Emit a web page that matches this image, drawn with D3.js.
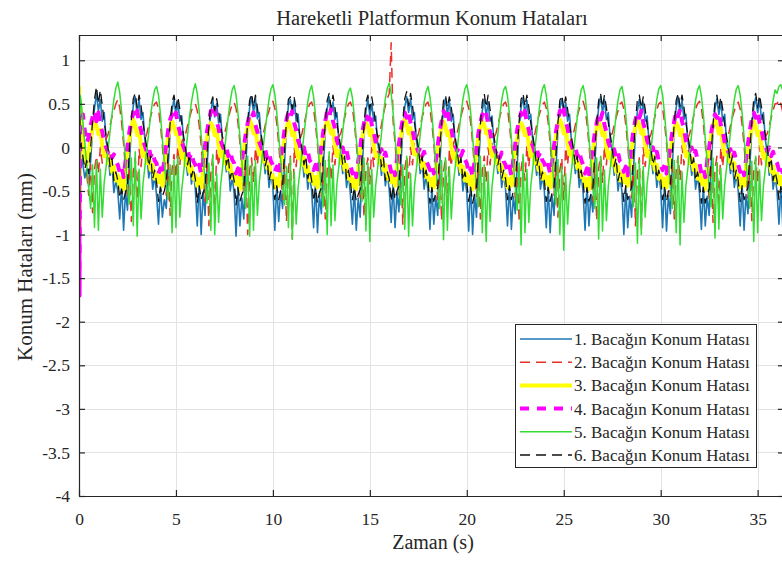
<!DOCTYPE html>
<html><head><meta charset="utf-8">
<script src="https://cdn.jsdelivr.net/npm/d3@7"></script>
<style>
body{margin:0;background:#fff}
svg{display:block}
text{font-family:"Liberation Serif","Times New Roman",serif;fill:#262626}
</style>
</head><body>
<svg id="chart" width="782" height="561"></svg>
<script>
const titleText = "Hareketli Platformun Konum Hataları";
const xLabelText = "Zaman (s)";
const yLabelText = "Konum Hataları (mm)";
const xTicks = [0, 5, 10, 15, 20, 25, 30, 35];
const yTicks = [1, 0.5, 0, -0.5, -1, -1.5, -2, -2.5, -3, -3.5, -4];
const seriesNames = ["1. Bacağın Konum Hatası","2. Bacağın Konum Hatası","3. Bacağın Konum Hatası","4. Bacağın Konum Hatası","5. Bacağın Konum Hatası","6. Bacağın Konum Hatası"];

// start-up transient samples (s) and the regular sampling that follows
const transientTimes = [0, 0.03, 0.06];
const sampleStart = 0.1, sampleStep = 0.1;

const leg1Transient = [-1.5, 0.3, -0.2];
const leg2Transient = [0.0, -1.2, 0.3];
const leg3Transient = [0.7, -1.0, 0.5];
const leg4Transient = [0.35, -1.7, 0.2];
const leg5Transient = [1.4, -0.5, 0.6];
const leg6Transient = [-0.3, 0.4, 0.0];

const leg1 = [
-0.05,-0.20,-0.35,-0.25,-0.45,-0.15,0.20,0.45,0.62,0.42,0.55,0.30,0.40,0.08,-0.08,-0.32,-0.20,-0.52,-0.38,
-0.50,-0.82,-0.42,-0.95,-0.50,-0.72,-0.18,0.22,0.48,0.58,0.38,0.55,0.32,0.40,0.08,-0.08,-0.35,-0.18,-0.48,-0.32,
-0.55,-0.88,-0.45,-0.80,-0.60,-0.70,-0.22,0.18,0.42,0.56,0.36,0.52,0.30,0.36,0.05,-0.10,-0.32,-0.12,-0.42,-0.28,
-0.48,-0.90,-0.38,-1.00,-0.52,-0.78,-0.25,0.15,0.40,0.55,0.35,0.50,0.28,0.38,0.06,-0.06,-0.28,-0.16,-0.50,-0.34,
-0.52,-1.02,-0.45,-0.90,-0.58,-0.82,-0.20,0.20,0.46,0.58,0.40,0.56,0.33,0.40,0.10,-0.04,-0.30,-0.14,-0.46,-0.30,
-0.46,-0.95,-0.42,-0.85,-0.50,-0.70,-0.18,0.22,0.48,0.55,0.38,0.54,0.30,0.38,0.08,-0.06,-0.34,-0.18,-0.48,-0.32,
-0.50,-0.92,-0.40,-0.98,-0.55,-0.76,-0.22,0.18,0.44,0.58,0.38,0.52,0.32,0.40,0.08,-0.06,-0.30,-0.16,-0.46,-0.30,
-0.55,-0.88,-0.46,-0.95,-0.58,-0.80,-0.25,0.16,0.42,0.56,0.36,0.50,0.30,0.36,0.06,-0.08,-0.32,-0.14,-0.44,-0.30,
-0.48,-0.86,-0.42,-0.92,-0.52,-0.74,-0.20,0.20,0.46,0.58,0.40,0.56,0.32,0.40,0.08,-0.06,-0.30,-0.16,-0.48,-0.32,
-0.50,-0.94,-0.44,-0.88,-0.56,-0.78,-0.22,0.18,0.44,0.56,0.38,0.54,0.30,0.38,0.06,-0.08,-0.32,-0.18,-0.50,-0.34,
-0.52,-0.96,-0.40,-1.00,-0.54,-0.80,-0.24,0.16,0.42,0.55,0.36,0.52,0.30,0.36,0.06,-0.06,-0.30,-0.14,-0.46,-0.30,
-0.48,-0.90,-0.42,-0.94,-0.56,-0.76,-0.20,0.20,0.46,0.57,0.38,0.54,0.32,0.38,0.08,-0.06,-0.32,-0.16,-0.48,-0.32,
-0.50,-0.92,-0.44,-0.98,-0.55,-0.78,-0.22,0.18,0.44,0.56,0.38,0.52,0.30,0.38,0.06,-0.08,-0.30,-0.16,-0.46,-0.30,
-0.52,-0.95,-0.42,-0.90,-0.54,-0.74,-0.20,0.20,0.46,0.58,0.40,0.55,0.32,0.40,0.08,-0.06,-0.32,-0.18,-0.50,-0.34,
-0.50,-1.00,-0.45,-0.92,-0.56,-0.80,-0.24,0.16,0.42,0.55,0.36,0.52,0.30,0.36,0.06,-0.06,-0.30,-0.14,-0.46,-0.30,
-0.48,-0.92,-0.40,-0.96,-0.55,-0.76,-0.20,0.20,0.46,0.58,0.38,0.54,0.32,0.38,0.08,-0.06,-0.32,-0.16,-0.48,-0.32,
-0.52,-0.94,-0.44,-0.90,-0.56,-0.78,-0.22,0.18,0.44,0.56,0.38,0.52,0.30,0.38,0.06,-0.08,-0.30,-0.16,-0.46,-0.30,
-0.50,-0.90,-0.42,-0.95,-0.54,-0.76,-0.20,0.20,0.46,0.57,0.40,0.55,0.32,0.40,0.08,-0.06,-0.32,-0.18,-0.48,-0.34,
-0.50,-0.88,-0.45,-0.92
];

const leg2 = [
0.15,0.00,-0.15,-0.30,-0.55,-0.20,-0.75,-0.25,-0.10,-0.30,0.00,-0.18,0.05,0.10,0.15,0.25,0.35,0.42,0.50,
0.55,0.46,0.28,0.04,-0.25,-0.58,-0.22,-0.85,-0.28,-0.12,-0.60,-0.02,-0.22,0.04,0.10,0.16,0.26,0.36,0.44,0.50,
0.52,0.44,0.26,0.02,-0.28,-0.55,-0.18,-0.78,-0.25,-0.08,-0.35,0.02,-0.20,0.06,0.12,0.16,0.25,0.34,0.42,0.48,
0.50,0.42,0.25,0.03,-0.26,-0.62,-0.20,-0.90,-0.30,-0.10,-0.80,-0.02,-0.22,0.04,0.10,0.15,0.24,0.34,0.42,0.49,
0.52,0.45,0.28,0.05,-0.25,-0.55,-0.18,-1.00,-0.26,-0.12,-0.40,0.00,-0.20,0.05,0.10,0.15,0.25,0.35,0.42,0.50,
0.53,0.45,0.27,0.04,-0.26,-0.60,-0.20,-0.85,-0.24,-0.10,-1.05,0.00,-0.22,0.04,0.10,0.16,0.26,0.36,0.44,0.50,
0.52,0.44,0.26,0.03,-0.27,-0.56,-0.22,-0.82,-0.25,-0.10,-0.38,0.02,-0.20,0.06,0.12,0.16,0.25,0.34,0.43,0.50,
0.52,0.45,0.28,0.05,-0.25,-0.58,-0.20,-0.80,-0.26,-0.12,-0.42,0.00,-0.22,0.04,0.10,0.15,0.26,0.38,0.48,0.56,
0.62,1.20,0.30,0.05,-0.25,-0.55,-0.20,-0.88,-0.25,-0.10,-0.35,0.00,-0.20,0.05,0.10,0.15,0.25,0.35,0.42,0.50,
0.52,0.44,0.27,0.04,-0.26,-0.60,-0.22,-0.84,-0.28,-0.12,-0.70,-0.02,-0.22,0.04,0.10,0.16,0.26,0.36,0.44,0.50,
0.53,0.45,0.28,0.05,-0.25,-0.56,-0.20,-0.82,-0.26,-0.10,-0.40,0.00,-0.20,0.05,0.11,0.16,0.25,0.35,0.43,0.50,
0.52,0.44,0.26,0.03,-0.27,-0.58,-0.22,-0.86,-0.25,-0.10,-0.38,0.02,-0.22,0.04,0.10,0.15,0.25,0.35,0.42,0.49,
0.52,0.45,0.28,0.05,-0.25,-0.55,-0.20,-0.80,-0.26,-0.12,-0.60,0.00,-0.20,0.05,0.10,0.16,0.26,0.36,0.44,0.50,
0.53,0.45,0.27,0.04,-0.26,-0.62,-0.22,-0.84,-0.24,-0.10,-0.40,0.02,-0.20,0.06,0.12,0.16,0.25,0.34,0.42,0.50,
0.52,0.44,0.26,0.03,-0.27,-0.58,-0.20,-0.90,-0.28,-0.12,-0.95,0.00,-0.22,0.04,0.10,0.15,0.25,0.35,0.43,0.50,
0.52,0.45,0.28,0.05,-0.25,-0.56,-0.22,-0.82,-0.26,-0.10,-0.38,0.02,-0.20,0.05,0.10,0.16,0.26,0.36,0.44,0.50,
0.53,0.45,0.27,0.04,-0.26,-0.60,-0.20,-0.86,-0.25,-0.10,-0.70,0.00,-0.22,0.04,0.11,0.15,0.25,0.35,0.42,0.49,
0.52,0.44,0.26,0.03,-0.27,-0.58,-0.22,-0.84,-0.26,-0.12,-0.40,0.02,-0.20,0.06,0.12,0.16,0.25,0.34,0.43,0.50,
0.50,0.55,0.50,0.40
];

const leg3 = [
0.30,0.10,-0.10,-0.20,-0.05,0.10,0.22,0.30,0.25,0.15,0.20,0.02,-0.10,-0.05,-0.18,-0.10,-0.28,-0.22,-0.38,
-0.32,-0.45,-0.35,-0.48,-0.28,-0.06,0.10,0.22,0.32,0.26,0.14,0.20,0.02,-0.10,-0.04,-0.18,-0.10,-0.26,-0.20,-0.36,
-0.30,-0.40,-0.33,-0.44,-0.24,-0.04,0.12,0.24,0.30,0.24,0.15,0.18,0.00,-0.12,-0.06,-0.20,-0.12,-0.28,-0.22,-0.36,
-0.32,-0.44,-0.36,-0.46,-0.26,-0.06,0.10,0.22,0.28,0.24,0.14,0.20,0.02,-0.10,-0.05,-0.18,-0.10,-0.25,-0.20,-0.35,
-0.30,-0.42,-0.34,-0.48,-0.26,-0.04,0.12,0.24,0.32,0.26,0.16,0.22,0.04,-0.08,-0.04,-0.16,-0.08,-0.24,-0.18,-0.34,
-0.32,-0.46,-0.36,-0.44,-0.24,-0.06,0.10,0.22,0.30,0.24,0.14,0.18,0.00,-0.12,-0.06,-0.20,-0.12,-0.28,-0.22,-0.38,
-0.30,-0.42,-0.34,-0.46,-0.26,-0.04,0.12,0.24,0.30,0.26,0.16,0.20,0.02,-0.10,-0.04,-0.18,-0.10,-0.26,-0.20,-0.36,
-0.34,-0.45,-0.36,-0.48,-0.28,-0.06,0.10,0.22,0.28,0.24,0.14,0.20,0.02,-0.10,-0.06,-0.18,-0.12,-0.26,-0.20,-0.36,
-0.30,-0.40,-0.32,-0.44,-0.24,-0.04,0.12,0.26,0.32,0.26,0.16,0.22,0.04,-0.08,-0.04,-0.16,-0.10,-0.24,-0.18,-0.34,
-0.32,-0.44,-0.36,-0.46,-0.26,-0.06,0.10,0.22,0.30,0.24,0.14,0.18,0.00,-0.12,-0.06,-0.20,-0.12,-0.28,-0.22,-0.38,
-0.30,-0.42,-0.34,-0.48,-0.26,-0.04,0.12,0.24,0.30,0.26,0.16,0.20,0.02,-0.10,-0.04,-0.18,-0.10,-0.26,-0.20,-0.36,
-0.32,-0.46,-0.36,-0.44,-0.24,-0.06,0.10,0.22,0.28,0.24,0.14,0.20,0.02,-0.10,-0.06,-0.18,-0.12,-0.26,-0.20,-0.36,
-0.30,-0.42,-0.34,-0.46,-0.26,-0.04,0.12,0.26,0.32,0.26,0.16,0.22,0.04,-0.08,-0.04,-0.16,-0.08,-0.24,-0.18,-0.34,
-0.34,-0.45,-0.36,-0.48,-0.28,-0.06,0.10,0.22,0.30,0.24,0.14,0.18,0.00,-0.12,-0.06,-0.20,-0.12,-0.28,-0.22,-0.38,
-0.30,-0.40,-0.32,-0.44,-0.24,-0.04,0.12,0.24,0.30,0.26,0.16,0.20,0.02,-0.10,-0.04,-0.18,-0.10,-0.26,-0.20,-0.36,
-0.32,-0.44,-0.36,-0.46,-0.26,-0.06,0.10,0.22,0.28,0.24,0.14,0.20,0.02,-0.10,-0.06,-0.18,-0.12,-0.26,-0.20,-0.36,
-0.30,-0.42,-0.34,-0.48,-0.26,-0.04,0.12,0.26,0.32,0.26,0.16,0.22,0.04,-0.08,-0.04,-0.16,-0.08,-0.24,-0.18,-0.34,
-0.32,-0.46,-0.36,-0.44,-0.24,-0.06,0.10,0.22,0.30,0.24,0.14,0.18,0.00,-0.12,-0.06,-0.20,-0.12,-0.28,-0.22,-0.38,
-0.30,-0.42,-0.34,-0.46
];

const leg4 = [
0.35,0.38,0.20,0.05,0.12,0.25,0.35,0.42,0.30,0.40,0.25,0.18,0.06,0.00,-0.06,-0.02,-0.12,-0.08,-0.16,
-0.20,-0.28,-0.22,-0.34,-0.16,0.02,0.18,0.30,0.40,0.34,0.42,0.28,0.20,0.08,0.02,-0.05,0.00,-0.10,-0.05,-0.15,
-0.18,-0.30,-0.24,-0.32,-0.14,0.04,0.20,0.32,0.38,0.32,0.40,0.26,0.18,0.06,0.00,-0.06,-0.02,-0.12,-0.06,-0.16,
-0.20,-0.26,-0.20,-0.30,-0.16,0.02,0.18,0.30,0.42,0.36,0.44,0.30,0.22,0.08,0.02,-0.04,0.00,-0.10,-0.04,-0.14,
-0.18,-0.30,-0.24,-0.34,-0.16,0.00,0.16,0.28,0.38,0.34,0.40,0.26,0.18,0.06,0.00,-0.06,-0.02,-0.12,-0.06,-0.16,
-0.20,-0.28,-0.22,-0.32,-0.14,0.04,0.20,0.32,0.40,0.34,0.42,0.28,0.20,0.08,0.02,-0.05,0.00,-0.10,-0.05,-0.15,
-0.18,-0.26,-0.20,-0.30,-0.16,0.02,0.18,0.30,0.42,0.36,0.44,0.30,0.22,0.08,0.02,-0.04,0.00,-0.10,-0.04,-0.14,
-0.20,-0.30,-0.24,-0.34,-0.16,0.00,0.16,0.28,0.38,0.32,0.40,0.26,0.18,0.06,0.00,-0.06,-0.02,-0.12,-0.06,-0.16,
-0.18,-0.28,-0.22,-0.32,-0.14,0.04,0.20,0.32,0.40,0.34,0.42,0.28,0.20,0.08,0.02,-0.05,0.00,-0.10,-0.05,-0.15,
-0.20,-0.26,-0.20,-0.30,-0.16,0.02,0.18,0.30,0.42,0.36,0.44,0.30,0.22,0.08,0.02,-0.04,0.00,-0.10,-0.04,-0.14,
-0.18,-0.30,-0.24,-0.34,-0.16,0.00,0.16,0.28,0.38,0.34,0.40,0.26,0.18,0.06,0.00,-0.06,-0.02,-0.12,-0.06,-0.16,
-0.20,-0.28,-0.22,-0.32,-0.14,0.04,0.20,0.32,0.40,0.34,0.42,0.28,0.20,0.08,0.02,-0.05,0.00,-0.10,-0.05,-0.15,
-0.18,-0.26,-0.20,-0.30,-0.16,0.02,0.18,0.30,0.42,0.36,0.44,0.30,0.22,0.08,0.02,-0.04,0.00,-0.10,-0.04,-0.14,
-0.20,-0.30,-0.24,-0.34,-0.16,0.00,0.16,0.28,0.38,0.32,0.40,0.26,0.18,0.06,0.00,-0.06,-0.02,-0.12,-0.06,-0.16,
-0.18,-0.28,-0.22,-0.32,-0.14,0.04,0.20,0.32,0.40,0.34,0.42,0.28,0.20,0.08,0.02,-0.05,0.00,-0.10,-0.05,-0.15,
-0.20,-0.26,-0.20,-0.30,-0.16,0.02,0.18,0.30,0.42,0.36,0.44,0.30,0.22,0.08,0.02,-0.04,0.00,-0.10,-0.04,-0.14,
-0.18,-0.30,-0.24,-0.34,-0.16,0.00,0.16,0.28,0.38,0.34,0.40,0.26,0.18,0.06,0.00,-0.06,-0.02,-0.12,-0.06,-0.16,
-0.20,-0.28,-0.22,-0.32,-0.14,0.04,0.20,0.32,0.40,0.34,0.42,0.28,0.20,0.08,0.02,-0.05,0.00,-0.10,-0.05,-0.15,
-0.18,-0.26,-0.20,-0.30
];

const leg5 = [
0.55,0.30,0.05,-0.20,-0.45,-0.70,-0.20,-0.92,-0.15,-0.95,-0.25,-0.80,-0.40,-0.22,-0.02,0.18,0.38,0.55,0.68,
0.75,0.63,0.40,0.12,-0.15,-0.45,-0.65,-0.12,-0.90,-0.05,-1.02,-0.25,-0.82,-0.42,-0.22,-0.02,0.18,0.38,0.54,0.66,
0.70,0.60,0.38,0.10,-0.18,-0.42,-0.60,-0.20,-0.98,-0.15,-0.92,-0.10,-0.80,-0.48,-0.28,-0.06,0.14,0.35,0.52,0.65,
0.73,0.62,0.41,0.14,-0.10,-0.38,-0.64,-0.18,-0.95,-0.08,-1.00,-0.30,-0.86,-0.44,-0.24,-0.04,0.16,0.36,0.53,0.66,
0.71,0.60,0.39,0.12,-0.16,-0.44,-0.70,-0.10,-1.02,-0.20,-0.95,-0.15,-0.78,-0.40,-0.20,0.00,0.20,0.38,0.55,0.67,
0.72,0.61,0.40,0.13,-0.14,-0.40,-0.66,-0.22,-0.92,-0.12,-1.05,-0.28,-0.88,-0.46,-0.26,-0.06,0.14,0.34,0.52,0.65,
0.71,0.58,0.36,0.08,-0.20,-0.48,-0.68,-0.15,-1.00,-0.05,-0.90,-0.20,-0.84,-0.42,-0.22,-0.02,0.18,0.37,0.53,0.64,
0.68,0.57,0.36,0.10,-0.16,-0.42,-0.62,-0.12,-0.96,-0.18,-1.08,-0.25,-0.80,-0.44,-0.24,-0.04,0.16,0.38,0.56,0.68,
0.74,0.62,0.40,0.12,-0.15,-0.42,-0.66,-0.20,-0.94,-0.10,-1.02,-0.30,-0.90,-0.45,-0.25,-0.05,0.15,0.35,0.52,0.64,
0.70,0.58,0.38,0.10,-0.18,-0.46,-0.70,-0.15,-1.06,-0.12,-0.95,-0.22,-0.82,-0.43,-0.23,-0.03,0.17,0.38,0.55,0.67,
0.72,0.61,0.40,0.12,-0.16,-0.44,-0.68,-0.10,-0.98,-0.20,-1.08,-0.28,-0.85,-0.45,-0.25,-0.05,0.15,0.36,0.54,0.66,
0.70,0.59,0.38,0.10,-0.18,-0.45,-0.72,-0.18,-1.12,-0.08,-0.98,-0.25,-0.86,-0.44,-0.24,-0.04,0.16,0.37,0.55,0.67,
0.72,0.60,0.39,0.12,-0.16,-0.44,-0.66,-0.14,-1.00,-0.22,-1.18,-0.30,-0.88,-0.46,-0.26,-0.06,0.14,0.35,0.53,0.66,
0.71,0.60,0.38,0.11,-0.17,-0.44,-0.70,-0.12,-1.05,-0.10,-0.96,-0.26,-0.84,-0.44,-0.24,-0.04,0.16,0.37,0.54,0.66,
0.70,0.58,0.37,0.10,-0.18,-0.46,-0.68,-0.18,-1.10,-0.15,-1.00,-0.22,-0.80,-0.42,-0.22,-0.02,0.18,0.38,0.55,0.67,
0.71,0.60,0.38,0.11,-0.17,-0.45,-0.70,-0.15,-0.98,-0.10,-1.12,-0.28,-0.86,-0.44,-0.24,-0.04,0.16,0.37,0.54,0.66,
0.71,0.59,0.38,0.10,-0.18,-0.45,-0.68,-0.12,-1.04,-0.18,-0.94,-0.24,-0.82,-0.43,-0.23,-0.03,0.17,0.38,0.55,0.67,
0.71,0.60,0.39,0.12,-0.16,-0.44,-0.70,-0.16,-1.08,-0.10,-0.98,-0.26,-0.84,-0.44,-0.24,-0.04,0.16,0.37,0.54,0.66,
0.62,0.70,0.72,0.65
];

const leg6 = [
0.05,-0.10,-0.25,-0.15,-0.30,0.00,0.30,0.55,0.70,0.50,0.66,0.48,0.30,0.12,-0.02,-0.22,-0.12,-0.38,-0.28,
-0.38,-0.58,-0.48,-0.60,-0.52,-0.42,-0.02,0.32,0.56,0.62,0.46,0.60,0.48,0.28,0.14,-0.02,-0.22,-0.10,-0.36,-0.26,
-0.40,-0.62,-0.46,-0.56,-0.50,-0.40,-0.06,0.28,0.52,0.60,0.45,0.58,0.44,0.28,0.12,-0.02,-0.20,-0.08,-0.34,-0.24,
-0.36,-0.64,-0.44,-0.60,-0.52,-0.46,-0.08,0.26,0.50,0.58,0.42,0.56,0.42,0.26,0.12,0.00,-0.20,-0.10,-0.36,-0.26,
-0.38,-0.66,-0.46,-0.62,-0.54,-0.48,-0.06,0.30,0.54,0.62,0.46,0.60,0.46,0.28,0.14,0.00,-0.22,-0.12,-0.38,-0.28,
-0.36,-0.60,-0.44,-0.60,-0.50,-0.44,-0.04,0.30,0.55,0.58,0.44,0.57,0.44,0.26,0.12,-0.02,-0.20,-0.10,-0.36,-0.26,
-0.38,-0.62,-0.46,-0.64,-0.52,-0.46,-0.06,0.28,0.54,0.62,0.46,0.60,0.46,0.28,0.14,0.00,-0.20,-0.10,-0.36,-0.26,
-0.40,-0.60,-0.46,-0.62,-0.54,-0.48,-0.08,0.26,0.52,0.60,0.44,0.58,0.44,0.26,0.12,-0.02,-0.22,-0.12,-0.38,-0.28,
-0.36,-0.62,-0.44,-0.60,-0.50,-0.44,-0.04,0.30,0.56,0.64,0.48,0.62,0.48,0.28,0.14,0.00,-0.20,-0.10,-0.36,-0.26,
-0.38,-0.64,-0.46,-0.62,-0.52,-0.46,-0.06,0.28,0.54,0.60,0.46,0.58,0.46,0.28,0.12,-0.02,-0.22,-0.12,-0.38,-0.28,
-0.40,-0.62,-0.46,-0.64,-0.54,-0.48,-0.08,0.26,0.52,0.62,0.46,0.60,0.44,0.26,0.12,0.00,-0.20,-0.10,-0.36,-0.26,
-0.36,-0.60,-0.44,-0.60,-0.50,-0.44,-0.04,0.30,0.55,0.62,0.47,0.60,0.46,0.28,0.14,0.00,-0.22,-0.12,-0.38,-0.28,
-0.38,-0.62,-0.46,-0.62,-0.52,-0.46,-0.06,0.28,0.54,0.60,0.45,0.58,0.44,0.26,0.12,-0.02,-0.20,-0.10,-0.36,-0.26,
-0.40,-0.64,-0.46,-0.62,-0.54,-0.48,-0.06,0.28,0.54,0.62,0.46,0.60,0.46,0.28,0.14,0.00,-0.22,-0.12,-0.38,-0.28,
-0.38,-0.62,-0.44,-0.60,-0.52,-0.46,-0.04,0.30,0.55,0.60,0.45,0.58,0.44,0.26,0.12,-0.02,-0.20,-0.10,-0.36,-0.26,
-0.36,-0.60,-0.46,-0.62,-0.50,-0.44,-0.06,0.28,0.54,0.62,0.47,0.60,0.46,0.28,0.14,0.00,-0.22,-0.12,-0.38,-0.28,
-0.40,-0.64,-0.46,-0.64,-0.54,-0.48,-0.08,0.26,0.52,0.60,0.44,0.58,0.44,0.26,0.12,-0.02,-0.20,-0.10,-0.36,-0.26,
-0.38,-0.62,-0.44,-0.60,-0.52,-0.46,-0.04,0.30,0.55,0.62,0.46,0.60,0.46,0.28,0.14,0.00,-0.22,-0.12,-0.38,-0.28,
-0.38,-0.60,-0.45,-0.62
];

const seriesValues = [leg1, leg2, leg3, leg4, leg5, leg6];
const seriesTransients = [leg1Transient, leg2Transient, leg3Transient, leg4Transient, leg5Transient, leg6Transient];
const seriesColors = ["#1f77b4", "#e8312c", "#ffff00", "#ff00ff", "#33dd33", "#111111"];
const seriesWidths = [1.6, 1.5, 4, 4, 1.5, 1.3];
const seriesDashes = [null, "10,6", null, "9,8", null, "10,6"];

const svg = d3.select("#chart");
const L = 79, R = 784, T = 35, B = 496;
const x = d3.scaleLinear().domain([0, 36.36]).range([L, R]);
const y = d3.scaleLinear().domain([-4, 1.29]).range([B, T]);

svg.append("rect").attr("width", 782).attr("height", 561).attr("fill", "#fff");

// grid
const grid = svg.append("g").attr("stroke", "#e3e3e3").attr("stroke-width", 1);
grid.selectAll(".gx").data(xTicks).join("line")
  .attr("x1", d => Math.round(x(d)) + 0.5).attr("x2", d => Math.round(x(d)) + 0.5)
  .attr("y1", T).attr("y2", B);
grid.selectAll(".gy").data(yTicks).join("line")
  .attr("x1", L).attr("x2", R)
  .attr("y1", d => Math.round(y(d)) + 0.5).attr("y2", d => Math.round(y(d)) + 0.5);

// data
svg.append("clipPath").attr("id", "clip").append("rect")
  .attr("x", L).attr("y", T).attr("width", R - L).attr("height", B - T);
const plotG = svg.append("g").attr("clip-path", "url(#clip)");
const line = d3.line().x(d => x(d[0])).y(d => y(d[1]));
seriesValues.forEach((vals, s) => {
  const pts = transientTimes.map((t, i) => [t, seriesTransients[s][i]])
    .concat(vals.map((v, i) => [sampleStart + i * sampleStep, v]));
  const p = plotG.append("path").datum(pts)
    .attr("fill", "none")
    .attr("stroke", seriesColors[s])
    .attr("stroke-width", seriesWidths[s])
    .attr("stroke-linejoin", "round")
    .attr("d", line);
  if (seriesDashes[s]) p.attr("stroke-dasharray", seriesDashes[s]);
});

// axes
const fmt = d => String(d);
const axB = svg.append("g").attr("transform", `translate(0,${B})`)
  .call(d3.axisBottom(x).tickValues(xTicks).tickFormat(fmt).tickSize(-6).tickSizeOuter(0).tickPadding(17));
const axL = svg.append("g").attr("transform", `translate(${L},0)`)
  .call(d3.axisLeft(y).tickValues(yTicks).tickFormat(fmt).tickSize(-6).tickSizeOuter(0).tickPadding(9));
const axT = svg.append("g").attr("transform", `translate(0,${T})`)
  .call(d3.axisTop(x).tickValues(xTicks).tickFormat("").tickSize(-6).tickSizeOuter(0));
const axR = svg.append("g").attr("transform", `translate(${R},0)`)
  .call(d3.axisRight(y).tickValues(yTicks).tickFormat("").tickSize(-6).tickSizeOuter(0));
[axB, axL, axT, axR].forEach(a => {
  a.selectAll("path,line").attr("stroke", "#262626").attr("stroke-width", 1.2);
  a.selectAll("text").attr("font-family", "Liberation Serif, serif").attr("font-size", 17.5).attr("fill", "#262626");
});

// titles
svg.append("text").attr("x", 432).attr("y", 25).attr("text-anchor", "middle")
  .attr("font-size", 20.5).text(titleText);
svg.append("text").attr("x", 433).attr("y", 549).attr("text-anchor", "middle")
  .attr("font-size", 20).text(xLabelText);
svg.append("text").attr("transform", "translate(32,267) rotate(-90)").attr("text-anchor", "middle")
  .attr("font-size", 21).text(yLabelText);

// legend
const lg = svg.append("g");
lg.append("rect").attr("x", 515.5).attr("y", 324.5).attr("width", 241).attr("height", 143)
  .attr("fill", "#fff").attr("stroke", "#262626").attr("stroke-width", 1);
seriesNames.forEach((name, i) => {
  const cy = 339 + i * 23.2;
  const l = lg.append("line").attr("x1", 520).attr("x2", 572).attr("y1", cy).attr("y2", cy)
    .attr("stroke", seriesColors[i]).attr("stroke-width", seriesWidths[i]);
  if (seriesDashes[i]) l.attr("stroke-dasharray", seriesDashes[i]);
  lg.append("text").attr("x", 574).attr("y", cy).attr("dy", "0.35em")
    .attr("font-size", 17).text(name);
});
</script>
</body></html>
